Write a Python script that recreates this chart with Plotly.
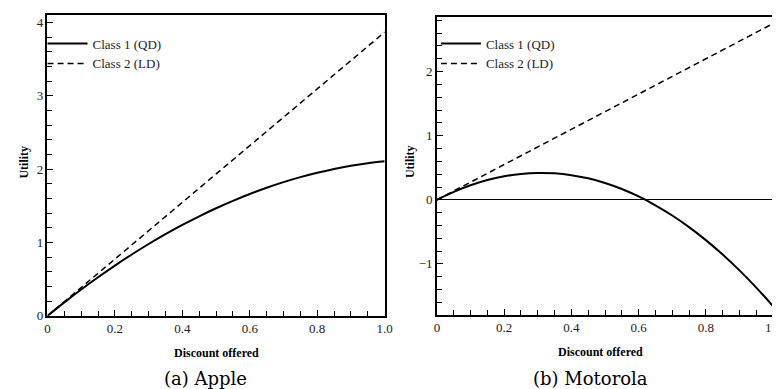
import plotly.graph_objects as go

discount = [0, 0.05, 0.1, 0.15, 0.2, 0.25, 0.3, 0.35, 0.4, 0.45, 0.5,
            0.55, 0.6, 0.65, 0.7, 0.75, 0.8, 0.85, 0.9, 0.95, 1.0]

apple_class1 = [0, 0.184, 0.36, 0.527, 0.686, 0.837, 0.98, 1.114, 1.24, 1.358, 1.468,
                1.569, 1.662, 1.747, 1.824, 1.892, 1.952, 2.004, 2.048, 2.083, 2.11]
apple_class2_x = [0, 0.5, 1.0]
apple_class2 = [0, 1.935, 3.87]

moto_class1 = [0, 0.125, 0.227, 0.308, 0.367, 0.404, 0.42, 0.413, 0.385, 0.335, 0.263,
               0.169, 0.053, -0.085, -0.244, -0.426, -0.629, -0.854, -1.101, -1.369, -1.66]
moto_class2_x = [0, 0.5, 1.0]
moto_class2 = [0, 1.375, 2.75]

series_names = ["Class 1 (QD)", "Class 2 (LD)"]
captions = ["(a) Apple", "(b) Motorola"]
xlabel = "Discount offered"
ylabel = "Utility"

W, H = 780, 389
SERIF = "Liberation Serif"
CAPFONT = "DejaVu Serif"

fig = go.Figure()

fig.add_trace(go.Scatter(x=discount, y=apple_class1, mode="lines", name=series_names[0],
                         line=dict(color="black", width=2, shape="spline"),
                         xaxis="x", yaxis="y", legend="legend"))
fig.add_trace(go.Scatter(x=apple_class2_x, y=apple_class2, mode="lines", name=series_names[1],
                         line=dict(color="black", width=1.5, dash="6px,4px"),
                         xaxis="x", yaxis="y", legend="legend"))
fig.add_trace(go.Scatter(x=discount, y=moto_class1, mode="lines", name=series_names[0],
                         line=dict(color="black", width=2, shape="spline"),
                         xaxis="x2", yaxis="y2", legend="legend2"))
fig.add_trace(go.Scatter(x=moto_class2_x, y=moto_class2, mode="lines", name=series_names[1],
                         line=dict(color="black", width=1.5, dash="6px,4px"),
                         xaxis="x2", yaxis="y2", legend="legend2"))

def px_to_fx(p):
    return p / W

def px_to_fy(p):
    return (H - p) / H

left_dom = [px_to_fx(37), px_to_fx(379)]
right_dom = [px_to_fx(432), px_to_fx(773)]
left_ydom = [px_to_fy(314.3), px_to_fy(6.7)]
right_ydom = [px_to_fy(313), px_to_fy(9)]

xaxis_common = dict(
    range=[0, 1], tickmode="linear", tick0=0, dtick=0.2, labelalias={"1": "1.0"},
    ticks="inside", ticklen=6, tickwidth=1.2, tickcolor="black",
    showline=True, linecolor="black", linewidth=1.5,
    mirror=True, showgrid=False, zeroline=False,
    tickfont=dict(family=SERIF, size=13, color="#222"),
    minor=dict(dtick=0.05, ticks="inside", ticklen=5, tickcolor="black", tickwidth=1.2),
)
yaxis_common = dict(
    tickmode="linear", tick0=0, dtick=1,
    ticks="inside", ticklen=6, tickwidth=1.2, tickcolor="black", showline=True,
    linecolor="black", linewidth=1.5, mirror=True, showgrid=False,
    tickfont=dict(family=SERIF, size=13, color="#222"),
    minor=dict(dtick=0.2, ticks="inside", ticklen=5, tickcolor="black", tickwidth=1.2),
)

legend_common = dict(xanchor="left", yanchor="top", bgcolor="rgba(0,0,0,0)",
                     font=dict(family=SERIF, size=13, color="#222"),
                     tracegroupgap=0, itemwidth=40)

fig.update_layout(
    width=W, height=H,
    font=dict(family=SERIF, color="black"),
    margin=dict(l=0, r=0, t=0, b=0),
    plot_bgcolor="white", paper_bgcolor="white",
    xaxis=dict(domain=left_dom, anchor="y", **xaxis_common),
    yaxis=dict(domain=left_ydom, anchor="x", range=[0, 4.11], zeroline=False, **yaxis_common),
    xaxis2=dict(domain=right_dom, anchor="y2", **xaxis_common),
    yaxis2=dict(domain=right_ydom, anchor="x2", range=[-1.79, 2.855],
                zeroline=True, zerolinecolor="black", zerolinewidth=1, **yaxis_common),
    legend=dict(x=px_to_fx(32), y=px_to_fy(21), **legend_common),
    legend2=dict(x=px_to_fx(431), y=px_to_fy(21), **legend_common),
)

annots = [
    dict(text="<b>%s</b>" % xlabel, x=px_to_fx(208), y=px_to_fy(352), size=12, fam=SERIF),
    dict(text="<b>%s</b>" % xlabel, x=px_to_fx(598), y=px_to_fy(351), size=12, fam=SERIF),
    dict(text=captions[0], x=px_to_fx(197), y=px_to_fy(378), size=18, fam=CAPFONT),
    dict(text=captions[1], x=px_to_fx(588), y=px_to_fy(378), size=18, fam=CAPFONT),
]
for a in annots:
    fig.add_annotation(text=a["text"], x=a["x"], y=a["y"], xref="paper", yref="paper",
                       showarrow=False, xanchor="center", yanchor="middle",
                       font=dict(family=a["fam"], size=a["size"], color="black"))

for xp in (13, 404):
    fig.add_annotation(text="<b>%s</b>" % ylabel, x=px_to_fx(xp), y=px_to_fy(157),
                       xref="paper", yref="paper", showarrow=False, textangle=-90,
                       xanchor="center", yanchor="middle",
                       font=dict(family=SERIF, size=12, color="black"))

fig.write_html("out.html")
